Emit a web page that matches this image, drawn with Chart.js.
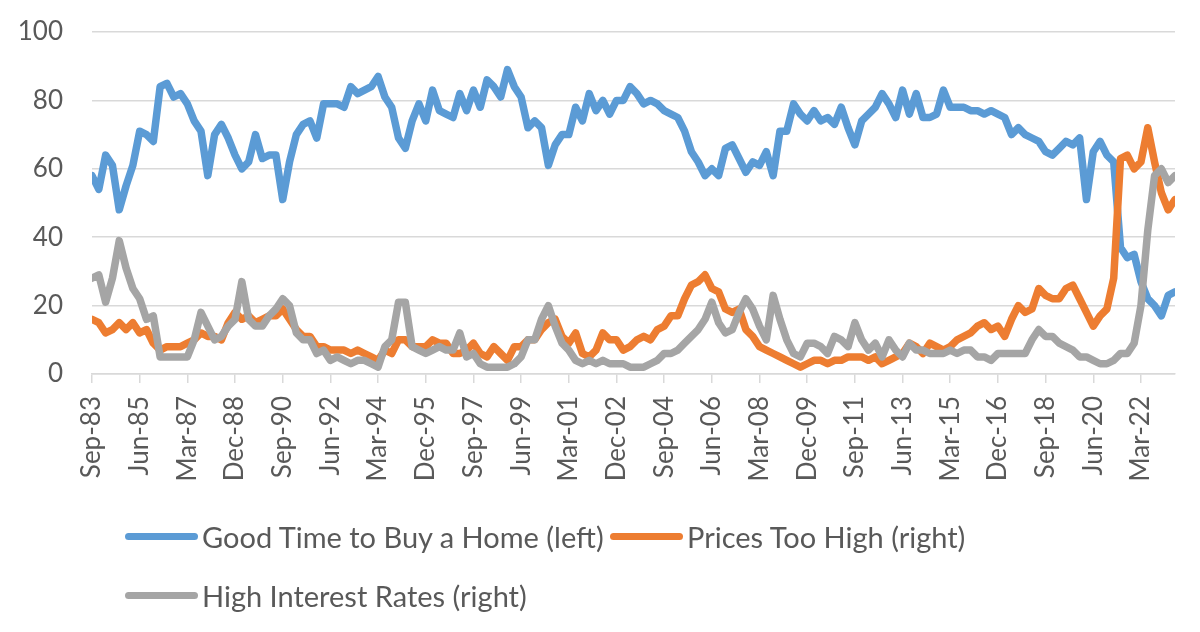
<!DOCTYPE html>
<html>
<head>
<meta charset="utf-8">
<script src="https://cdn.jsdelivr.net/npm/chart.js@4.4.1/dist/chart.umd.min.js"></script>
<style>
  body { margin: 0; background: #fff; }
  #wrap { position: relative; width: 1200px; height: 632px; }
  .leg { position: absolute; height: 40px; display: flex; align-items: center; white-space: nowrap;
         font-family: Lato, sans-serif; font-size: 29px; color: #595959; }
  .leg i { display: inline-block; width: 73px; height: 7px; border-radius: 3.5px; margin-right: 4px; }
</style>
</head>
<body>
<div id="wrap">
  <canvas id="myChart" width="1200" height="632"></canvas>
  <div class="leg" style="left:125px;top:516px"><i style="background:#5B9BD5"></i>Good Time to Buy a Home (left)</div>
  <div class="leg" style="left:610px;top:516px"><i style="background:#ED7D31"></i>Prices Too High (right)</div>
  <div class="leg" style="left:125px;top:575px"><i style="background:#A5A5A5"></i>High Interest Rates (right)</div>
</div>
<script>
// x axis labels, one every 21 months starting Sep-83
const tickLabels = ['Sep-83','Jun-85','Mar-87','Dec-88','Sep-90','Jun-92','Mar-94','Dec-95','Sep-97','Jun-99',
  'Mar-01','Dec-02','Sep-04','Jun-06','Mar-08','Dec-09','Sep-11','Jun-13','Mar-15','Dec-16','Sep-18','Jun-20','Mar-22']

// values, one every 3 months from Sep-83
const goodTime = [
  58,54,64,61,48,55,61,71,70,68,
  84,85,81,82,79,74,71,58,70,73,
  69,64,60,62,70,63,64,64,51,62,
  70,73,74,69,79,79,79,78,84,82,
  83,84,87,81,78,69,66,74,79,74,
  83,77,76,75,82,77,83,78,86,84,
  81,89,84,81,72,74,72,61,67,70,
  70,78,74,82,77,80,76,80,80,84,
  82,79,80,79,77,76,75,71,65,62,
  58,60,58,66,67,63,59,62,61,65,
  58,71,71,79,76,74,77,74,75,73,
  78,72,67,74,76,78,82,79,75,83,
  76,82,75,75,76,83,78,78,78,77,
  77,76,77,76,75,70,72,70,69,68,
  65,64,66,68,67,69,51,65,68,64,
  62,37,34,35,27,22,20,17,23,24]
const pricesHigh = [
  16,15,12,13,15,13,15,12,13,9,
  7,8,8,8,9,10,12,11,11,10,
  15,18,16,17,15,16,17,17,19,16,
  13,11,11,8,8,7,7,7,6,7,
  6,5,4,7,6,10,10,8,8,8,
  10,9,9,6,6,7,9,6,5,8,
  6,4,8,8,10,10,13,15,16,11,
  9,12,6,5,7,12,10,10,7,8,
  10,11,10,13,14,17,17,22,26,27,
  29,25,24,19,18,19,13,11,8,7,
  6,5,4,3,2,3,4,4,3,4,
  4,5,5,5,4,5,3,4,5,6,
  9,8,6,9,8,7,8,10,11,12,
  14,15,13,14,11,16,20,18,19,25,
  23,22,22,25,26,22,18,14,17,19,
  28,63,64,60,62,72,62,53,48,51]
const highRates = [
  28,29,21,28,39,31,25,22,16,17,
  5,5,5,5,5,10,18,14,10,11,
  14,16,27,16,14,14,17,19,22,20,
  12,10,10,6,7,4,5,4,3,4,
  4,3,2,8,10,21,21,8,7,6,
  7,8,7,7,12,5,6,3,2,2,
  2,2,3,5,10,10,16,20,14,9,
  7,4,3,4,3,4,3,3,3,2,
  2,2,3,4,6,6,7,9,11,13,
  16,21,15,12,13,18,22,19,14,10,
  23,16,10,6,5,9,9,8,6,11,
  10,8,15,10,7,9,5,10,7,5,
  9,7,7,6,6,6,7,6,7,7,
  5,5,4,6,6,6,6,6,10,13,
  11,11,9,8,7,5,5,4,3,3,
  4,6,6,9,20,42,58,60,56,58]

const ctx = document.getElementById('myChart');
const axisFont = { family: 'Lato', size: 26 };
const gridColor = '#D9D9D9';

function series(values) {
  return values.map((v, i) => ({ x: i * 3, y: v }));
}

function line(label, values, color, order) {
  return {
    label: label,
    data: series(values),
    borderColor: color,
    backgroundColor: color,
    borderWidth: 7.5,
    pointRadius: 0,
    tension: 0,
    borderJoinStyle: 'round',
    borderCapStyle: 'round',
    order: order
  }
}

new Chart(ctx, {
  type: 'line',
  data: {
    datasets: [
      line('Good Time to Buy a Home (left)', goodTime, '#5B9BD5', 3),
      line('Prices Too High (right)', pricesHigh, '#ED7D31', 2),
      line('High Interest Rates (right)', highRates, '#A5A5A5', 1)
    ]
  },
  options: {
    responsive: false,
    animation: false,
    layout: { padding: { left: 0, right: 25, top: 32, bottom: 128 } },
    plugins: { legend: { display: false }, tooltip: { enabled: false } },
    scales: {
      x: {
        type: 'linear',
        min: 0,
        max: 477,
        afterBuildTicks: s => { s.ticks = tickLabels.map((t, k) => ({ value: k * 21 })) },
        afterFit: s => { s.height = 130 },
        ticks: {
          autoSkip: false,
          minRotation: 90,
          maxRotation: 90,
          padding: 13,
          color: '#595959',
          font: axisFont,
          callback: (v, index) => tickLabels[index]
        },
        grid: { drawOnChartArea: false, drawTicks: true, tickLength: 9, color: gridColor, lineWidth: 1.5 },
        border: { color: gridColor, width: 1.5 }
      },
      y: {
        min: 0,
        max: 100,
        afterFit: s => { s.width = 92 },
        ticks: { stepSize: 20, padding: 0, color: '#595959', font: axisFont },
        grid: { color: gridColor, lineWidth: 1.5, drawTicks: true, tickLength: 29, tickColor: 'rgba(0,0,0,0)' },
        border: { display: false }
      }
    }
  }
});
</script>
</body>
</html>
